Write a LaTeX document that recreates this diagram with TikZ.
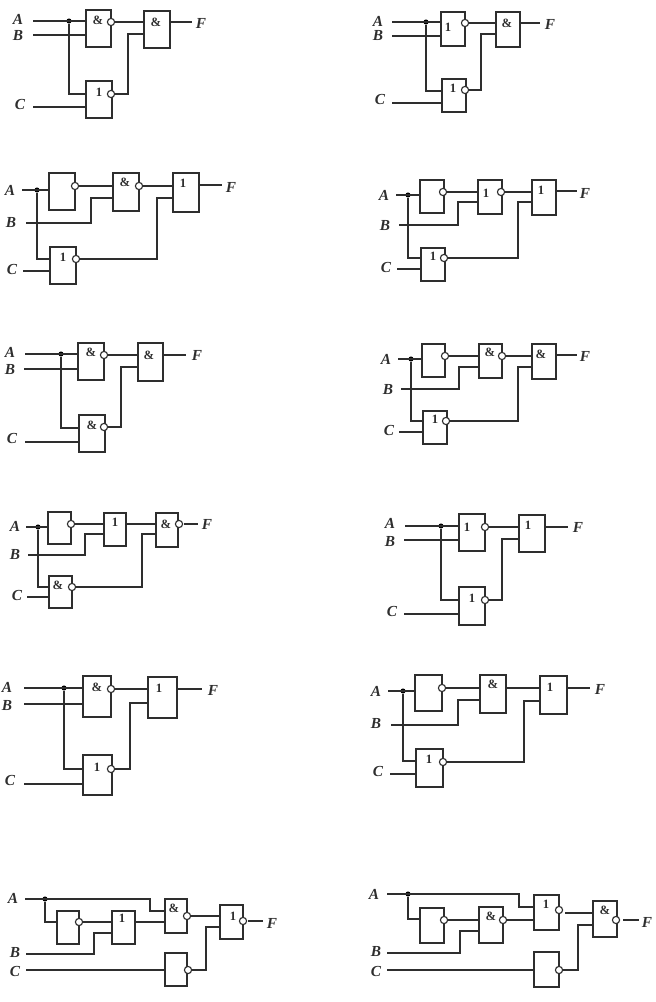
\documentclass[tikz,border=0pt]{standalone}
\usepackage{fontspec}
\setmainfont{Liberation Serif}
\usepackage{tikz}
\usetikzlibrary{positioning}
\definecolor{ink}{gray}{0.18}
\tikzstyle{wire} = [draw=ink, line width=1.1pt]
\tikzstyle{inv} = [circle, draw=ink, fill=white, line width=0.85pt, minimum width=5.4pt, inner sep=0pt, outer sep=0pt]
\tikzstyle{fdot} = [circle, fill=black, minimum width=3.8pt, inner sep=0pt]
\tikzstyle{sig} = [font=\fontsize{11.5}{11.5}\selectfont\bfseries\itshape, text=ink, inner sep=0pt]
\tikzstyle{gatetext} = [font=\fontsize{9.5}{9.5}\selectfont\bfseries, text=ink, inner sep=0pt]
\tikzset{gate/.style 2 args={rectangle, draw=ink, line width=1.1pt, anchor=north west, inner sep=0pt, outer sep=0pt, minimum width=#1*0.75pt, minimum height=#2*0.75pt}}

\begin{document}
\begin{tikzpicture}[x=0.75pt, y=-0.75pt]
\useasboundingbox (0,0) rectangle (656,1002);

% row 1 left
\node (A1) [sig] at (18,19) {A};
\node (B1) [sig] at (18,36) {B};
\node (C1) [sig] at (20,104) {C};
\node (F1) [sig] at (201,23) {F};
\coordinate (a1) at (33,21);
\coordinate (b1) at (33,35);
\coordinate (c1) at (33,107);
\coordinate (f1) at (192,22);
\node (gate1a) [gate={25}{37}] at (86,10) {};
\node (gate1b) [gate={26}{37}] at (86,81) {};
\node (gate1c) [gate={26}{37}] at (144,11) {};
\node (txt1a) [gatetext] at (98,20) {\&};
\node (txt1b) [gatetext] at (99,92) {1};
\node (txt1c) [gatetext] at (156,22) {\&};
\node (inv1a) [inv] at (111,22) {};
\node (inv1b) [inv] at (111,94) {};
\node (dot1) [fdot] at (69,21) {};
\coordinate (low1) at (86,94);
\coordinate (bend1) at (128,34);
\draw [wire] (a1) -- (a1 -| gate1a.west);
\draw [wire] (b1) -- (b1 -| gate1a.west);
\draw [wire] (c1) -- (c1 -| gate1b.west);
\draw [wire] (dot1) |- (low1);
\draw [wire] (inv1a) -- (inv1a -| gate1c.west);
\draw [wire] (inv1b) -| (bend1) -- (bend1 -| gate1c.west);
\draw [wire] (f1 -| gate1c.east) -- (f1);

% row 1 right
\node (A2) [sig] at (378,21) {A};
\node (B2) [sig] at (378,36) {B};
\node (C2) [sig] at (380,99) {C};
\node (F2) [sig] at (550,24) {F};
\coordinate (a2) at (392,22);
\coordinate (b2) at (392,36);
\coordinate (c2) at (392,103);
\coordinate (f2) at (540,23);
\node (gate2a) [gate={24}{34}] at (441,12) {};
\node (gate2b) [gate={24}{33}] at (442,79) {};
\node (gate2c) [gate={24}{35}] at (496,12) {};
\node (txt2a) [gatetext] at (448,27) {1};
\node (txt2b) [gatetext] at (453,88) {1};
\node (txt2c) [gatetext] at (507,23) {\&};
\node (inv2a) [inv] at (465,23) {};
\node (inv2b) [inv] at (465,90) {};
\node (dot2) [fdot] at (426,22) {};
\coordinate (low2) at (442,91);
\coordinate (bend2) at (481,34);
\draw [wire] (a2) -- (a2 -| gate2a.west);
\draw [wire] (b2) -- (b2 -| gate2a.west);
\draw [wire] (c2) -- (c2 -| gate2b.west);
\draw [wire] (dot2) |- (low2);
\draw [wire] (inv2a) -- (inv2a -| gate2c.west);
\draw [wire] (inv2b) -| (bend2) -- (bend2 -| gate2c.west);
\draw [wire] (f2 -| gate2c.east) -- (f2);

% row 2 left
\node (A3) [sig] at (10,190) {A};
\node (B3) [sig] at (11,223) {B};
\node (C3) [sig] at (12,269) {C};
\node (F3) [sig] at (231,187) {F};
\coordinate (a3) at (22,190);
\coordinate (b3) at (26,223);
\coordinate (c3) at (23,271);
\coordinate (f3) at (222,185);
\node (gate3a) [gate={26}{37}] at (49,173) {};
\node (gate3b) [gate={26}{38}] at (113,173) {};
\node (gate3c) [gate={26}{39}] at (173,173) {};
\node (gate3d) [gate={26}{37}] at (50,247) {};
\node (txt3b) [gatetext] at (125,182) {\&};
\node (txt3c) [gatetext] at (183,183) {1};
\node (txt3d) [gatetext] at (63,257) {1};
\node (inv3a) [inv] at (75,186) {};
\node (inv3b) [inv] at (139,186) {};
\node (inv3d) [inv] at (76,259) {};
\node (dot3) [fdot] at (37,190) {};
\coordinate (low3) at (50,259);
\coordinate (bend3b) at (91,198);
\coordinate (bend3c) at (157,198);
\draw [wire] (a3) -- (a3 -| gate3a.west);
\draw [wire] (c3) -- (c3 -| gate3d.west);
\draw [wire] (dot3) |- (low3);
\draw [wire] (inv3a) -- (inv3a -| gate3b.west);
\draw [wire] (b3) -| (bend3b) -- (bend3b -| gate3b.west);
\draw [wire] (inv3b) -- (inv3b -| gate3c.west);
\draw [wire] (inv3d) -| (bend3c) -- (bend3c -| gate3c.west);
\draw [wire] (f3 -| gate3c.east) -- (f3);

% row 2 right
\node (A4) [sig] at (384,195) {A};
\node (B4) [sig] at (385,226) {B};
\node (C4) [sig] at (386,267) {C};
\node (F4) [sig] at (585,193) {F};
\coordinate (a4) at (396,195);
\coordinate (b4) at (399,225);
\coordinate (c4) at (397,269);
\coordinate (f4) at (577,191);
\node (gate4a) [gate={24}{33}] at (420,180) {};
\node (gate4b) [gate={24}{34}] at (478,180) {};
\node (gate4c) [gate={24}{35}] at (532,180) {};
\node (gate4d) [gate={24}{33}] at (421,248) {};
\node (txt4b) [gatetext] at (486,193) {1};
\node (txt4c) [gatetext] at (541,190) {1};
\node (txt4d) [gatetext] at (433,256) {1};
\node (inv4a) [inv] at (443,192) {};
\node (inv4b) [inv] at (501,192) {};
\node (inv4d) [inv] at (444,258) {};
\node (dot4) [fdot] at (408,195) {};
\coordinate (low4) at (421,258);
\coordinate (bend4b) at (458,202);
\coordinate (bend4c) at (518,202);
\draw [wire] (a4) -- (a4 -| gate4a.west);
\draw [wire] (c4) -- (c4 -| gate4d.west);
\draw [wire] (dot4) |- (low4);
\draw [wire] (inv4a) -- (inv4a -| gate4b.west);
\draw [wire] (b4) -| (bend4b) -- (bend4b -| gate4b.west);
\draw [wire] (inv4b) -- (inv4b -| gate4c.west);
\draw [wire] (inv4d) -| (bend4c) -- (bend4c -| gate4c.west);
\draw [wire] (f4 -| gate4c.east) -- (f4);

% row 3 left
\node (A5) [sig] at (10,352) {A};
\node (B5) [sig] at (10,369) {B};
\node (C5) [sig] at (12,438) {C};
\node (F5) [sig] at (197,355) {F};
\coordinate (a5) at (25,354);
\coordinate (b5) at (24,369);
\coordinate (c5) at (25,442);
\coordinate (f5) at (186,355);
\node (gate5a) [gate={26}{37}] at (78,343) {};
\node (gate5b) [gate={26}{37}] at (79,415) {};
\node (gate5c) [gate={25}{38}] at (138,343) {};
\node (txt5a) [gatetext] at (91,352) {\&};
\node (txt5b) [gatetext] at (92,425) {\&};
\node (txt5c) [gatetext] at (149,355) {\&};
\node (inv5a) [inv] at (104,355) {};
\node (inv5b) [inv] at (104,427) {};
\node (dot5) [fdot] at (61,354) {};
\coordinate (low5) at (79,428);
\coordinate (bend5) at (121,367);
\draw [wire] (a5) -- (a5 -| gate5a.west);
\draw [wire] (b5) -- (b5 -| gate5a.west);
\draw [wire] (c5) -- (c5 -| gate5b.west);
\draw [wire] (dot5) |- (low5);
\draw [wire] (inv5a) -- (inv5a -| gate5c.west);
\draw [wire] (inv5b) -| (bend5) -- (bend5 -| gate5c.west);
\draw [wire] (f5 -| gate5c.east) -- (f5);

% row 3 right
\node (A6) [sig] at (386,359) {A};
\node (B6) [sig] at (388,389) {B};
\node (C6) [sig] at (389,430) {C};
\node (F6) [sig] at (585,356) {F};
\coordinate (a6) at (398,359);
\coordinate (b6) at (401,389);
\coordinate (c6) at (399,432);
\coordinate (f6) at (577,355);
\node (gate6a) [gate={23}{33}] at (422,344) {};
\node (gate6b) [gate={23}{34}] at (479,344) {};
\node (gate6c) [gate={24}{35}] at (532,344) {};
\node (gate6d) [gate={24}{33}] at (423,411) {};
\node (txt6b) [gatetext] at (490,352) {\&};
\node (txt6c) [gatetext] at (541,354) {\&};
\node (txt6d) [gatetext] at (435,419) {1};
\node (inv6a) [inv] at (445,356) {};
\node (inv6b) [inv] at (502,356) {};
\node (inv6d) [inv] at (446,421) {};
\node (dot6) [fdot] at (411,359) {};
\coordinate (low6) at (423,421);
\coordinate (bend6b) at (459,367);
\coordinate (bend6c) at (518,367);
\draw [wire] (a6) -- (a6 -| gate6a.west);
\draw [wire] (c6) -- (c6 -| gate6d.west);
\draw [wire] (dot6) |- (low6);
\draw [wire] (inv6a) -- (inv6a -| gate6b.west);
\draw [wire] (b6) -| (bend6b) -- (bend6b -| gate6b.west);
\draw [wire] (inv6b) -- (inv6b -| gate6c.west);
\draw [wire] (inv6d) -| (bend6c) -- (bend6c -| gate6c.west);
\draw [wire] (f6 -| gate6c.east) -- (f6);

% row 4 left
\node (A7) [sig] at (15,526) {A};
\node (B7) [sig] at (15,554) {B};
\node (C7) [sig] at (17,595) {C};
\node (F7) [sig] at (207,524) {F};
\coordinate (a7) at (26,527);
\coordinate (b7) at (28,555);
\coordinate (c7) at (27,597);
\coordinate (f7) at (198,524);
\coordinate (g7) at (184,524);
\node (gate7a) [gate={23}{32}] at (48,512) {};
\node (gate7b) [gate={22}{33}] at (104,513) {};
\node (gate7c) [gate={22}{34}] at (156,513) {};
\node (gate7d) [gate={23}{32}] at (49,576) {};
\node (txt7b) [gatetext] at (115,522) {1};
\node (txt7c) [gatetext] at (166,524) {\&};
\node (txt7d) [gatetext] at (58,585) {\&};
\node (inv7a) [inv] at (71,524) {};
\node (inv7c) [inv] at (179,524) {};
\node (inv7d) [inv] at (72,587) {};
\node (dot7) [fdot] at (38,527) {};
\coordinate (low7) at (49,587);
\coordinate (bend7b) at (85,534);
\coordinate (bend7c) at (142,534);
\draw [wire] (a7) -- (a7 -| gate7a.west);
\draw [wire] (c7) -- (c7 -| gate7d.west);
\draw [wire] (dot7) |- (low7);
\draw [wire] (inv7a) -- (inv7a -| gate7b.west);
\draw [wire] (b7) -| (bend7b) -- (bend7b -| gate7b.west);
\draw [wire] (g7 -| gate7b.east) -- (g7 -| gate7c.west);
\draw [wire] (inv7d) -| (bend7c) -- (bend7c -| gate7c.west);
\draw [wire] (g7) -- (f7);

% row 4 right
\node (A8) [sig] at (390,523) {A};
\node (B8) [sig] at (390,541) {B};
\node (C8) [sig] at (392,611) {C};
\node (F8) [sig] at (578,527) {F};
\coordinate (a8) at (405,526);
\coordinate (b8) at (404,540);
\coordinate (c8) at (404,614);
\coordinate (f8) at (568,527);
\node (gate8a) [gate={26}{37}] at (459,514) {};
\node (gate8b) [gate={26}{37}] at (519,515) {};
\node (gate8c) [gate={26}{38}] at (459,587) {};
\node (txt8a) [gatetext] at (467,527) {1};
\node (txt8b) [gatetext] at (528,525) {1};
\node (txt8c) [gatetext] at (472,598) {1};
\node (inv8a) [inv] at (485,527) {};
\node (inv8c) [inv] at (485,600) {};
\node (dot8) [fdot] at (441,526) {};
\coordinate (low8) at (459,600);
\coordinate (bend8) at (502,539);
\draw [wire] (a8) -- (a8 -| gate8a.west);
\draw [wire] (b8) -- (b8 -| gate8a.west);
\draw [wire] (c8) -- (c8 -| gate8c.west);
\draw [wire] (dot8) |- (low8);
\draw [wire] (inv8a) -- (inv8a -| gate8b.west);
\draw [wire] (inv8c) -| (bend8) -- (bend8 -| gate8b.west);
\draw [wire] (f8 -| gate8b.east) -- (f8);

% row 5 left
\node (A9) [sig] at (7,687) {A};
\node (B9) [sig] at (7,705) {B};
\node (C9) [sig] at (10,780) {C};
\node (F9) [sig] at (213,690) {F};
\coordinate (a9) at (24,688);
\coordinate (b9) at (24,704);
\coordinate (c9) at (24,784);
\coordinate (f9) at (202,689);
\node (gate9a) [gate={28}{41}] at (83,676) {};
\node (gate9b) [gate={29}{40}] at (83,755) {};
\node (gate9c) [gate={29}{41}] at (148,677) {};
\node (txt9a) [gatetext] at (97,687) {\&};
\node (txt9b) [gatetext] at (97,767) {1};
\node (txt9c) [gatetext] at (159,688) {1};
\node (inv9a) [inv] at (111,689) {};
\node (inv9b) [inv] at (111,769) {};
\node (dot9) [fdot] at (64,688) {};
\coordinate (low9) at (83,769);
\coordinate (bend9) at (130,703);
\draw [wire] (a9) -- (a9 -| gate9a.west);
\draw [wire] (b9) -- (b9 -| gate9a.west);
\draw [wire] (c9) -- (c9 -| gate9b.west);
\draw [wire] (dot9) |- (low9);
\draw [wire] (inv9a) -- (inv9a -| gate9c.west);
\draw [wire] (inv9b) -| (bend9) -- (bend9 -| gate9c.west);
\draw [wire] (f9 -| gate9c.east) -- (f9);

% row 5 right
\node (A10) [sig] at (376,691) {A};
\node (B10) [sig] at (376,723) {B};
\node (C10) [sig] at (378,771) {C};
\node (F10) [sig] at (600,689) {F};
\coordinate (a10) at (388,691);
\coordinate (b10) at (391,725);
\coordinate (c10) at (390,774);
\coordinate (f10) at (590,688);
\node (gate10a) [gate={27}{36}] at (415,675) {};
\node (gate10b) [gate={26}{38}] at (480,675) {};
\node (gate10c) [gate={27}{38}] at (540,676) {};
\node (gate10d) [gate={27}{38}] at (416,749) {};
\node (txt10b) [gatetext] at (493,684) {\&};
\node (txt10c) [gatetext] at (550,687) {1};
\node (txt10d) [gatetext] at (429,759) {1};
\node (inv10a) [inv] at (442,688) {};
\node (inv10d) [inv] at (443,762) {};
\node (dot10) [fdot] at (403,691) {};
\coordinate (low10) at (416,761);
\coordinate (bend10b) at (458,700);
\coordinate (bend10c) at (524,701);
\draw [wire] (a10) -- (a10 -| gate10a.west);
\draw [wire] (c10) -- (c10 -| gate10d.west);
\draw [wire] (dot10) |- (low10);
\draw [wire] (inv10a) -- (inv10a -| gate10b.west);
\draw [wire] (b10) -| (bend10b) -- (bend10b -| gate10b.west);
\draw [wire] (f10 -| gate10b.east) -- (f10 -| gate10c.west);
\draw [wire] (inv10d) -| (bend10c) -- (bend10c -| gate10c.west);
\draw [wire] (f10 -| gate10c.east) -- (f10);

% row 6 left
\node (A11) [sig] at (13,898) {A};
\node (B11) [sig] at (15,952) {B};
\node (C11) [sig] at (15,971) {C};
\node (F11) [sig] at (272,923) {F};
\coordinate (a11) at (25,899);
\coordinate (b11) at (26,954);
\coordinate (c11) at (26,970);
\coordinate (f11) at (263,921);
\coordinate (g11) at (248,921);
\node (gate11a) [gate={22}{33}] at (57,911) {};
\node (gate11b) [gate={23}{33}] at (112,911) {};
\node (gate11c) [gate={22}{34}] at (165,899) {};
\node (gate11d) [gate={22}{33}] at (165,953) {};
\node (gate11e) [gate={23}{34}] at (220,905) {};
\node (txt11b) [gatetext] at (122,918) {1};
\node (txt11c) [gatetext] at (174,908) {\&};
\node (txt11e) [gatetext] at (233,916) {1};
\node (inv11a) [inv] at (79,922) {};
\node (inv11c) [inv] at (187,916) {};
\node (inv11d) [inv] at (188,970) {};
\node (inv11e) [inv] at (243,921) {};
\node (dot11) [fdot] at (45,899) {};
\coordinate (low11) at (57,922);
\coordinate (top11) at (150,911);
\coordinate (bend11b) at (94,933);
\coordinate (bend11e) at (206,927);
\draw [wire] (a11) -| (top11) -- (top11 -| gate11c.west);
\draw [wire] (dot11) |- (low11);
\draw [wire] (inv11a) -- (inv11a -| gate11b.west);
\draw [wire] (b11) -| (bend11b) -- (bend11b -| gate11b.west);
\draw [wire] (inv11a -| gate11b.east) -- (inv11a -| gate11c.west);
\draw [wire] (c11) -- (c11 -| gate11d.west);
\draw [wire] (inv11c) -- (inv11c -| gate11e.west);
\draw [wire] (inv11d) -| (bend11e) -- (bend11e -| gate11e.west);
\draw [wire] (g11) -- (f11);

% row 6 right
\node (A12) [sig] at (374,894) {A};
\node (B12) [sig] at (376,951) {B};
\node (C12) [sig] at (376,971) {C};
\node (F12) [sig] at (647,922) {F};
\coordinate (a12) at (387,894);
\coordinate (b12) at (387,953);
\coordinate (c12) at (387,970);
\coordinate (f12) at (639,920);
\coordinate (g12) at (623,920);
\coordinate (h12) at (565,913);
\node (gate12a) [gate={24}{35}] at (420,908) {};
\node (gate12b) [gate={24}{36}] at (479,907) {};
\node (gate12c) [gate={25}{35}] at (534,895) {};
\node (gate12d) [gate={25}{35}] at (534,952) {};
\node (gate12e) [gate={24}{36}] at (593,901) {};
\node (txt12b) [gatetext] at (491,916) {\&};
\node (txt12c) [gatetext] at (546,904) {1};
\node (txt12e) [gatetext] at (605,910) {\&};
\node (inv12a) [inv] at (444,920) {};
\node (inv12b) [inv] at (503,920) {};
\node (inv12c) [inv] at (559,910) {};
\node (inv12d) [inv] at (559,970) {};
\node (inv12e) [inv] at (616,920) {};
\node (dot12) [fdot] at (408,894) {};
\coordinate (low12) at (420,919);
\coordinate (top12) at (519,907);
\coordinate (bend12b) at (460,931);
\coordinate (bend12e) at (578,925);
\draw [wire] (a12) -| (top12) -- (top12 -| gate12c.west);
\draw [wire] (dot12) |- (low12);
\draw [wire] (inv12a) -- (inv12a -| gate12b.west);
\draw [wire] (b12) -| (bend12b) -- (bend12b -| gate12b.west);
\draw [wire] (inv12b) -- (inv12b -| gate12c.west);
\draw [wire] (c12) -- (c12 -| gate12d.west);
\draw [wire] (h12) -- (h12 -| gate12e.west);
\draw [wire] (inv12d) -| (bend12e) -- (bend12e -| gate12e.west);
\draw [wire] (g12) -- (f12);

\end{tikzpicture}
\end{document}
